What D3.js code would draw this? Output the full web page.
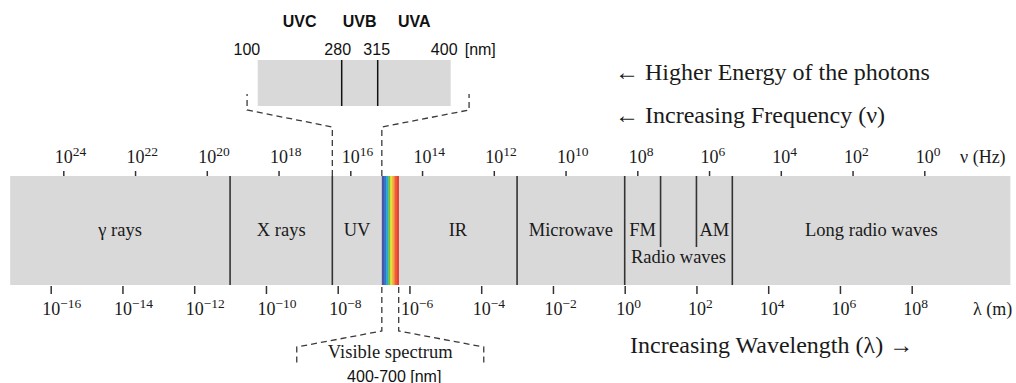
<!DOCTYPE html>
<html>
<head>
<meta charset="utf-8">
<script src="https://cdn.jsdelivr.net/npm/d3@7"></script>
<style>
  html, body { margin: 0; padding: 0; background: #fff; }
  svg { display: block; }
</style>
</head>
<body>
<svg id="chart" width="1016" height="383"></svg>
<script>
// ---- data -------------------------------------------------------------
// Bands of the electromagnetic spectrum; edges are log10(wavelength / m)
const bandNames = ["γ rays", "X rays", "UV", "", "IR", "Microwave", "FM", "", "AM", "Long radio waves"];
const bandEdges = [-17.13, -11, -8.15, -6.77, -6.3, -3, 0, 1, 2, 3, 10.75];
const fullDividers = [-11, -8.15, -3, 0, 3];      // full-height separators
const shortDividers = [1, 2];                     // separators inside the radio group
const radioGroup = { name: "Radio waves", from: 0, to: 3 };
const visibleBand = { from: -6.77, to: -6.3, name: "Visible spectrum", range: "400-700 [nm]" };
const visibleColors = ["#4b55a8", "#3577c4", "#2ea6d6", "#6cc04b", "#e4e233", "#f6a538", "#ef5c37", "#e8412f"];
const uvBand = { from: -8.15, to: -6.77 };

// Axis ticks (exponents of ten)
const freqTicks = [24, 22, 20, 18, 16, 14, 12, 10, 8, 6, 4, 2, 0];
const waveTicks = [-16, -14, -12, -10, -8, -6, -4, -2, 0, 2, 4, 6, 8];

// Ultraviolet detail (nm)
const uvEdges = [100, 280, 315, 400];
const uvNames = ["UVC", "UVB", "UVA"];

// ---- layout -----------------------------------------------------------
const svg = d3.select("#chart");
const serif = "'Liberation Serif','Times New Roman',Times,serif";
const sans = "'Liberation Sans',Arial,Helvetica,sans-serif";
const ink = "#1a1a1a";
const lineInk = "#333";
const barFill = "#d9d9d9";

const barTop = 176, barBottom = 285;

// log10(λ/m) -> x
const waveX = d3.scaleLinear().domain([-16, 8]).range([50.7, 911.7]);
// log10(ν/Hz) -> x
const freqX = d3.scaleLinear().domain([24, 0]).range([63.3, 924.3]);

// ---- main bar ---------------------------------------------------------
const bands = bandNames.map((name, i) => ({ name, from: bandEdges[i], to: bandEdges[i + 1] }));

svg.append("rect")
  .attr("x", waveX(bandEdges[0]))
  .attr("y", barTop)
  .attr("width", waveX(bandEdges[bandEdges.length - 1]) - waveX(bandEdges[0]))
  .attr("height", barBottom - barTop)
  .attr("fill", barFill);

// visible rainbow strip
const stripe = d3.scaleBand()
  .domain(d3.range(visibleColors.length))
  .range([waveX(visibleBand.from), waveX(visibleBand.to)]);
svg.append("g").selectAll("rect")
  .data(visibleColors)
  .join("rect")
  .attr("x", (d, i) => stripe(i))
  .attr("y", barTop)
  .attr("width", stripe.bandwidth() + 0.3)
  .attr("height", barBottom - barTop)
  .attr("fill", d => d);

// separators
svg.append("g").selectAll("line")
  .data(fullDividers)
  .join("line")
  .attr("x1", d => waveX(d)).attr("x2", d => waveX(d))
  .attr("y1", barTop).attr("y2", barBottom)
  .attr("stroke", lineInk).attr("stroke-width", 1.6);

svg.append("g").selectAll("line")
  .data(shortDividers)
  .join("line")
  .attr("x1", d => waveX(d)).attr("x2", d => waveX(d))
  .attr("y1", barTop).attr("y2", barTop + 71)
  .attr("stroke", lineInk).attr("stroke-width", 1.6);

// band names
svg.append("g").selectAll("text")
  .data(bands.filter(b => b.name))
  .join("text")
  .attr("x", d => (waveX(d.from) + waveX(d.to)) / 2)
  .attr("y", 236)
  .attr("text-anchor", "middle")
  .attr("font-family", serif)
  .attr("font-size", 18.5)
  .attr("fill", ink)
  .text(d => d.name);

svg.append("text")
  .attr("x", (waveX(radioGroup.from) + waveX(radioGroup.to)) / 2)
  .attr("y", 263)
  .attr("text-anchor", "middle")
  .attr("font-family", serif)
  .attr("font-size", 18.5)
  .attr("fill", ink)
  .text(radioGroup.name);

// ---- axes -------------------------------------------------------------
const baseSize = 18, supSize = 13.5;

// width of the "10" base, so that it sits centred over its tick
const probe = svg.append("text").attr("font-family", serif).attr("font-size", baseSize).text("10");
const tenWidth = probe.node().getComputedTextLength();
probe.remove();

function powerLabels(sel, baseline) {
  sel.selectAll(".tick text").remove();
  sel.selectAll(".tick").each(function (d) {
    const t = d3.select(this).append("text")
      .attr("x", -tenWidth / 2)
      .attr("y", baseline)
      .attr("text-anchor", "start")
      .attr("font-family", serif)
      .attr("font-size", baseSize)
      .attr("fill", ink);
    t.append("tspan").text("10");
    t.append("tspan")
      .attr("font-size", supSize)
      .attr("dy", -7)
      .text(d < 0 ? "\u2212" + Math.abs(d) : String(d));
  });
}

const freqAxis = svg.append("g")
  .attr("transform", `translate(0,${barTop})`)
  .call(d3.axisTop(freqX).tickValues(freqTicks).tickSize(5).tickSizeOuter(0));
freqAxis.select(".domain").remove();
freqAxis.selectAll(".tick line").attr("stroke", lineInk).attr("stroke-width", 1.5);
powerLabels(freqAxis, 163 - barTop);

const waveAxis = svg.append("g")
  .attr("transform", `translate(0,${barBottom + 1})`)
  .call(d3.axisBottom(waveX).tickValues(waveTicks).tickSize(8).tickSizeOuter(0));
waveAxis.select(".domain").remove();
waveAxis.selectAll(".tick line").attr("stroke", lineInk).attr("stroke-width", 1.5);
powerLabels(waveAxis, 315 - barBottom - 1);

svg.append("text")
  .attr("x", 960).attr("y", 163)
  .attr("font-family", serif).attr("font-size", baseSize).attr("fill", ink)
  .text("ν (Hz)");
svg.append("text")
  .attr("x", 973).attr("y", 315)
  .attr("font-family", serif).attr("font-size", baseSize).attr("fill", ink)
  .text("λ (m)");

// ---- direction notes --------------------------------------------------
const notes = [
  { text: "\u2190 Higher Energy of the photons", x: 615, y: 80 },
  { text: "\u2190 Increasing Frequency (ν)", x: 615, y: 123 },
  { text: "Increasing Wavelength (λ) \u2192", x: 630, y: 353 }
];
svg.append("g").selectAll("text")
  .data(notes)
  .join("text")
  .attr("x", d => d.x).attr("y", d => d.y)
  .attr("font-family", serif)
  .attr("font-size", 24)
  .attr("fill", ink)
  .text(d => d.text);

// ---- UV detail --------------------------------------------------------
const insetTop = 60, insetBottom = 106;
const uvX = d3.scaleLinear().domain(uvEdges).range([257.7, 341.7, 377.7, 450.7]);

svg.append("rect")
  .attr("x", uvX(uvEdges[0])).attr("y", insetTop)
  .attr("width", uvX(uvEdges[3]) - uvX(uvEdges[0]))
  .attr("height", insetBottom - insetTop)
  .attr("fill", barFill);

svg.append("g").selectAll("line")
  .data(uvEdges.slice(1, -1))
  .join("line")
  .attr("x1", d => uvX(d)).attr("x2", d => uvX(d))
  .attr("y1", insetTop).attr("y2", insetBottom)
  .attr("stroke", "#111").attr("stroke-width", 1.5);

svg.append("g").selectAll("text")
  .data(uvNames)
  .join("text")
  .attr("x", (d, i) => (uvX(uvEdges[i]) + uvX(uvEdges[i + 1])) / 2)
  .attr("y", 27)
  .attr("text-anchor", "middle")
  .attr("font-family", sans)
  .attr("font-weight", "bold")
  .attr("font-size", 16)
  .attr("fill", "#111")
  .text(d => d);

const uvNumAnchor = ["end", "middle", "middle", "middle"];
const uvNumShift = [2.5, -4, -1, -6.5];
svg.append("g").selectAll("text")
  .data(uvEdges)
  .join("text")
  .attr("x", (d, i) => uvX(d) + uvNumShift[i])
  .attr("y", 55)
  .attr("text-anchor", (d, i) => uvNumAnchor[i])
  .attr("font-family", sans)
  .attr("font-size", 16)
  .attr("fill", "#111")
  .text(d => d);
svg.append("text")
  .attr("x", uvX(400) + 14).attr("y", 55)
  .attr("font-family", sans).attr("font-size", 16).attr("fill", "#111")
  .text("[nm]");

// ---- dashed connectors ------------------------------------------------
const dash = d3.line();
const dashStyle = s => s.attr("fill", "none").attr("stroke", "#3a3a3a")
  .attr("stroke-width", 1.3).attr("stroke-dasharray", "6,4");

const uvL = waveX(uvBand.from), uvR = waveX(uvBand.to);
const uvMid = (uvL + uvR) / 2;
const topConnectors = [
  [[uvL, barTop], [uvL, 127], [uvMid - 110, 110], [uvMid - 110, 94]],
  [[uvR, barTop], [uvR, 127], [uvMid + 112, 110], [uvMid + 112, 94]]
];
const visL = waveX(visibleBand.from), visR = waveX(visibleBand.to);
const visMid = (visL + visR) / 2;
const bottomConnectors = [
  [[visL, barBottom + 2], [visL, 331], [visMid - 93.5, 347], [visMid - 93.5, 365]],
  [[visR, barBottom + 2], [visR, 331], [visMid + 93.5, 347], [visMid + 93.5, 365]]
];
svg.append("g").selectAll("path")
  .data(topConnectors.concat(bottomConnectors))
  .join("path")
  .attr("d", dash)
  .call(dashStyle);

svg.append("text")
  .attr("x", visMid).attr("y", 358)
  .attr("text-anchor", "middle")
  .attr("font-family", serif).attr("font-size", 18.5).attr("fill", ink)
  .text(visibleBand.name);
svg.append("text")
  .attr("x", visMid + 4).attr("y", 381.5)
  .attr("text-anchor", "middle")
  .attr("font-family", sans).attr("font-size", 16).attr("fill", "#111")
  .attr("xml:space", "preserve")
  .text(visibleBand.range);
</script>
</body>
</html>
